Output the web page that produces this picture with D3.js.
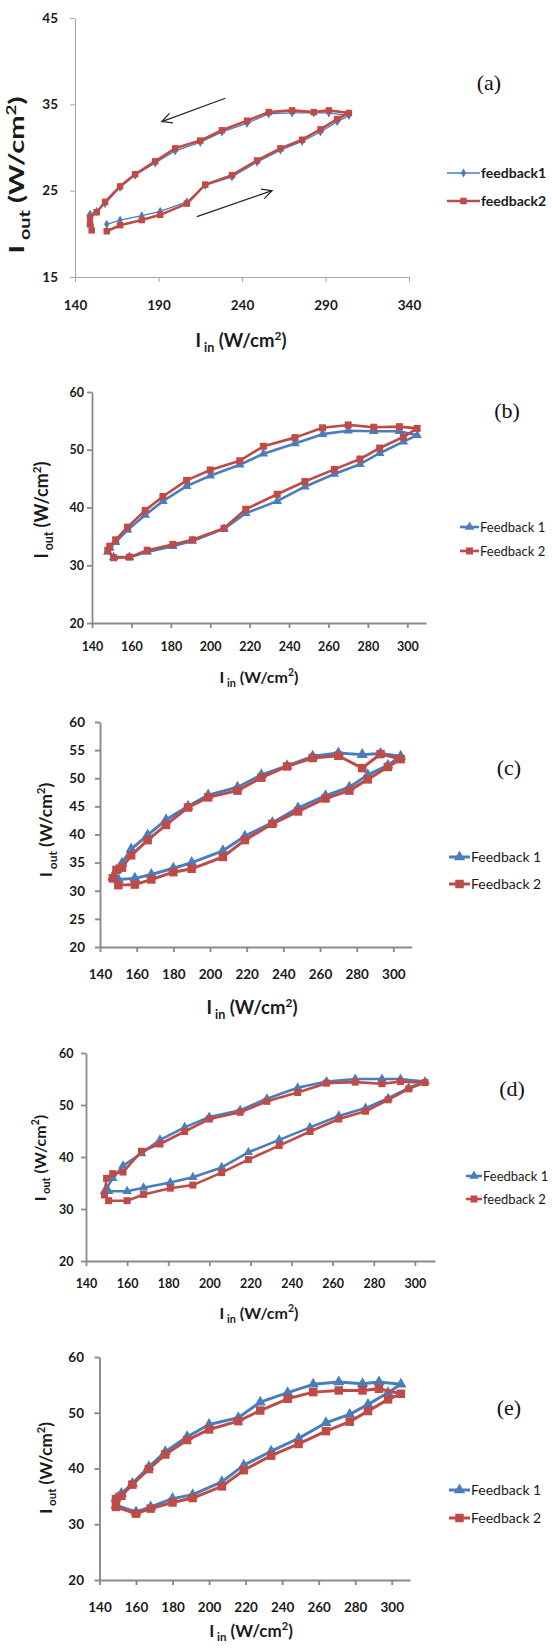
<!DOCTYPE html>
<html>
<head>
<meta charset="utf-8">
<script src="https://cdn.jsdelivr.net/npm/d3@7"></script>
<style>
  body { margin: 0; background: #fff; }
  svg { display: block; }
</style>
</head>
<body>
<svg id="chart"></svg>
<script>
// ---- data (I_in, W/cm2 -> I_out, W/cm2) ----
// each panel: rising branch first, then falling branch
const iinA = [159, 167, 180, 191, 207, 218, 234, 249, 263, 276, 287, 297, 304,
              292, 283, 270, 256, 243, 228, 215, 200, 188, 176, 167, 158, 153, 149, 149, 150];
const fb1A = [21.1, 21.6, 22.1, 22.6, 23.7, 25.6, 26.6, 28.3, 29.7, 30.7, 31.8, 33.0, 33.7,
              34.0, 34.0, 34.0, 33.9, 32.8, 31.8, 30.6, 29.6, 28.2, 26.8, 25.4, 23.5, 22.6, 22.3, 21.6, 21.0];
const fb2A = [20.3, 21.0, 21.6, 22.2, 23.5, 25.7, 26.8, 28.5, 29.9, 30.9, 32.1, 33.3, 34.0,
              34.3, 34.1, 34.3, 34.1, 33.1, 32.0, 30.8, 29.9, 28.4, 26.9, 25.5, 23.7, 22.5, 21.9, 21.1, 20.4];

const iinB = [151, 159, 168, 181, 191, 207, 218, 234, 248, 263, 276, 286, 298, 305,
              296, 283, 270, 257, 243, 227, 215, 200, 188, 176, 167, 158, 152, 149, 148];
const fb1B = [31.4, 31.4, 32.3, 33.3, 34.2, 36.3, 39.0, 41.1, 43.6, 45.8, 47.5, 49.4, 51.4, 52.5,
              53.2, 53.2, 53.3, 52.7, 51.1, 49.3, 47.4, 45.5, 43.7, 41.1, 38.7, 36.1, 34.0, 33.0, 32.3];
const fb2B = [31.3, 31.4, 32.6, 33.6, 34.4, 36.4, 39.7, 42.3, 44.5, 46.6, 48.4, 50.3, 52.2, 53.7,
              54.0, 53.9, 54.3, 53.8, 52.1, 50.6, 48.1, 46.5, 44.7, 41.9, 39.5, 36.6, 34.4, 33.3, 32.6];

const iinC = [150, 159, 168, 180, 190, 207, 219, 234, 248, 263, 276, 286, 297, 304,
              293, 283, 270, 256, 242, 228, 215, 199, 188, 176, 166, 157, 152, 149, 147];
const fb1C = [32.0, 32.2, 32.9, 34.0, 35.0, 37.1, 39.7, 42.1, 44.7, 46.9, 48.4, 50.6, 52.3, 53.9,
              54.4, 54.2, 54.5, 53.9, 52.2, 50.6, 48.4, 47.0, 45.0, 42.6, 39.9, 37.4, 34.9, 33.7, 32.4];
const fb2C = [31.0, 31.1, 32.0, 33.3, 33.9, 36.0, 39.0, 41.9, 44.1, 46.4, 47.8, 49.8, 52.0, 53.4,
              54.3, 51.8, 54.0, 53.6, 52.1, 50.1, 47.8, 46.6, 44.8, 41.7, 39.0, 36.3, 34.1, 33.7, 32.2];

const iinD = [151, 160, 168, 181, 192, 206, 219, 234, 249, 263, 276, 287, 297, 305,
              293, 284, 271, 257, 243, 228, 215, 200, 188, 176, 167, 158, 153, 150, 149];
const fb1D = [33.4, 33.4, 34.1, 35.1, 36.1, 38.0, 40.9, 43.3, 45.7, 47.9, 49.4, 51.3, 53.3, 54.5,
              55.0, 55.0, 55.0, 54.5, 53.3, 51.2, 49.0, 47.7, 45.7, 43.3, 40.7, 38.3, 35.9, 34.0, 33.4];
const fb2D = [31.6, 31.6, 32.8, 34.0, 34.6, 37.0, 39.5, 42.2, 44.9, 47.3, 48.8, 51.0, 53.1, 54.3,
              54.5, 54.1, 54.4, 54.2, 52.4, 50.7, 48.6, 47.3, 44.9, 42.5, 41.1, 37.1, 36.8, 35.9, 32.7];

const iinE = [149, 160, 168, 180, 191, 207, 219, 234, 249, 264, 277, 287, 298, 305,
              293, 284, 271, 257, 243, 228, 216, 200, 188, 176, 167, 158, 152, 149];
const fb1E = [33.4, 32.2, 33.1, 34.6, 35.3, 37.6, 40.6, 43.1, 45.4, 48.2, 49.7, 51.5, 53.6, 55.1,
              55.5, 55.2, 55.5, 55.1, 53.6, 51.9, 49.1, 47.9, 45.7, 43.0, 40.3, 37.3, 35.5, 34.6];
const fb2E = [33.1, 31.9, 32.8, 33.9, 34.7, 36.8, 39.7, 42.3, 44.4, 46.7, 48.4, 50.3, 52.4, 53.4,
              54.3, 54.0, 54.0, 53.7, 52.5, 50.4, 48.5, 47.0, 45.1, 42.5, 39.9, 37.1, 35.1, 34.5];

// tick labels
const xTicksA = [140, 190, 240, 290, 340];
const yTicksA = [15, 25, 35, 45];
const xTicks20 = [140, 160, 180, 200, 220, 240, 260, 280, 300];
const yTicks10 = [20, 30, 40, 50, 60];
const yTicks5 = [20, 25, 30, 35, 40, 45, 50, 55, 60];

// legend names
const namesA = ["feedback1", "feedback2"];
const namesBCE = ["Feedback 1", "Feedback 2"];
const namesD = ["Feedback 1", "feedback 2"];

// direction arrows in panel (a): [x1, y1, x2, y2] in data units, head at the second end
const arrowsA = [[230, 35.7, 192, 33.0], [213, 22.0, 258, 25.0]];

const blue = "#4a7ebb", red = "#be4b48";

// layout of each panel on the page (yTitle: cx, cy, font size, stretched length or 0)
const panels = [
  { tag: "(a)", iin: iinA, s1: fb1A, s2: fb2A, names: namesA, closed: false,
    xDomain: [140, 340], yDomain: [15, 45], xTicks: xTicksA, yTicks: yTicksA,
    left: 75, right: 409, top: 18, bottom: 277, axisColor: "#a6a6a6", axisWidth: 1,
    tickFont: 13.5, xLabY: 305, yLabGap: 17, xTitle: [241, 341, 18.5], yTitle: [17, 175, 21, 157],
    tagPos: [489, 82], legX: 447, legW: 33, legY: [173, 201], legFont: 14, legBold: true,
    w1: 1.3, w2: 2.6, m1: d3.symbolDiamond, m1Size: 24, mSize: 42, arrows: arrowsA },
  { tag: "(b)", iin: iinB, s1: fb1B, s2: fb2B, names: namesBCE, closed: true,
    xDomain: [140, 309.5], yDomain: [20, 60], xTicks: xTicks20, yTicks: yTicks10,
    left: 92, right: 426, top: 392, bottom: 623, axisColor: "#8a8a8a", axisWidth: 1.8,
    tickFont: 12.5, xLabY: 647, yLabGap: 8, xTitle: [259, 677, 16], yTitle: [42, 510, 18, 0],
    tagPos: [507, 410], legX: 460, legW: 19, legY: [527, 551], legFont: 13, legBold: false,
    w1: 2.6, w2: 2.6, m1: d3.symbolTriangle, m1Size: 40, mSize: 49 },
  { tag: "(c)", iin: iinC, s1: fb1C, s2: fb2C, names: namesBCE, closed: true,
    xDomain: [140, 310], yDomain: [20, 60], xTicks: xTicks20, yTicks: yTicks5,
    left: 100, right: 411.7, top: 722, bottom: 947, axisColor: "#8a8a8a", axisWidth: 1.9,
    tickFont: 13.5, xLabY: 974, yLabGap: 15, xTitle: [252, 1008, 18.5], yTitle: [46, 830, 17.5, 0],
    tagPos: [509, 767], legX: 449, legW: 21, legY: [857, 884], legFont: 14, legBold: false,
    w1: 3, w2: 3, m1: d3.symbolTriangle, m1Size: 55, mSize: 72 },
  { tag: "(d)", iin: iinD, s1: fb1D, s2: fb2D, names: namesD, closed: true,
    xDomain: [140, 309.8], yDomain: [20, 60], xTicks: xTicks20, yTicks: yTicks10,
    left: 86, right: 435, top: 1053, bottom: 1261, axisColor: "#8a8a8a", axisWidth: 1.8,
    tickFont: 12.5, xLabY: 1284, yLabGap: 12.5, xTitle: [259, 1313, 16], yTitle: [40.5, 1158, 16, 0],
    tagPos: [512, 1088], legX: 466, legW: 16, legY: [1176, 1199], legFont: 13, legBold: false,
    w1: 2.6, w2: 2.6, m1: d3.symbolTriangle, m1Size: 40, mSize: 49 },
  { tag: "(e)", iin: iinE, s1: fb1E, s2: fb2E, names: namesBCE, closed: true,
    xDomain: [140, 310], yDomain: [20, 60], xTicks: xTicks20, yTicks: yTicks10,
    left: 99.5, right: 410, top: 1357, bottom: 1580, axisColor: "#8a8a8a", axisWidth: 1.9,
    tickFont: 13.5, xLabY: 1607, yLabGap: 15.5, xTitle: [251, 1631, 17], yTitle: [46, 1468, 17, 0],
    tagPos: [509, 1407], legX: 449, legW: 21, legY: [1490, 1518], legFont: 14, legBold: false,
    w1: 3, w2: 3, m1: d3.symbolTriangle, m1Size: 55, mSize: 72 }
];

const font = "Lato, 'Open Sans', 'DejaVu Sans', sans-serif";

const svg = d3.select("#chart")
    .attr("width", 552)
    .attr("height", 1648)
    .attr("viewBox", [0, 0, 552, 1648])
    .style("font-family", font);

svg.append("defs").append("marker")
    .attr("id", "head")
    .attr("markerUnits", "userSpaceOnUse")
    .attr("viewBox", "-12 -6 14 12")
    .attr("markerWidth", 14)
    .attr("markerHeight", 12)
    .attr("orient", "auto")
  .append("path")
    .attr("d", "M-10,-5L0,0L-10,5")
    .attr("fill", "none")
    .attr("stroke", "#222")
    .attr("stroke-width", 1.2);

// I_in / I_out with sub and superscript
function ioTitle(text, sub, size) {
  text.append("tspan").text("I");
  text.append("tspan").attr("font-size", size * 0.68).attr("dy", size * 0.25).text(" " + sub);
  text.append("tspan").attr("dy", -size * 0.25).text(" (W/cm");
  text.append("tspan").attr("font-size", size * 0.65).attr("dy", -size * 0.42).text("2");
  text.append("tspan").attr("dy", size * 0.42).text(")");
}

panels.forEach(p => {
  const x = d3.scaleLinear(p.xDomain, [p.left, p.right]);
  const y = d3.scaleLinear(p.yDomain, [p.bottom, p.top]);
  const g = svg.append("g");

  const xAxis = g.append("g")
      .attr("transform", `translate(0,${p.bottom})`)
      .call(d3.axisBottom(x).tickValues(p.xTicks).tickSize(5).tickSizeOuter(0).tickFormat(d3.format("d")));
  xAxis.selectAll(".tick text")
      .attr("y", p.xLabY - p.bottom)
      .attr("dy", "0.35em");

  const yAxis = g.append("g")
      .attr("transform", `translate(${p.left},0)`)
      .call(d3.axisLeft(y).tickValues(p.yTicks).tickSize(5).tickSizeOuter(0).tickFormat(d3.format("d")));
  yAxis.selectAll(".tick text")
      .attr("x", -p.yLabGap);

  g.selectAll(".domain, .tick line")
      .attr("stroke", p.axisColor)
      .attr("stroke-width", p.axisWidth);
  g.selectAll(".tick text")
      .attr("fill", "#1a1a1a")
      .attr("font-family", font)
      .attr("font-weight", "bold")
      .attr("font-size", p.tickFont);

  // axis titles
  const xt = g.append("text")
      .attr("x", p.xTitle[0])
      .attr("y", p.xTitle[1])
      .attr("dy", "0.35em")
      .attr("text-anchor", "middle")
      .attr("font-weight", "bold")
      .attr("font-size", p.xTitle[2])
      .attr("fill", "#1a1a1a");
  ioTitle(xt, "in", p.xTitle[2]);

  const yt = g.append("text")
      .attr("transform", `translate(${p.yTitle[0]},${p.yTitle[1]}) rotate(-90)`)
      .attr("dy", "0.35em")
      .attr("text-anchor", "middle")
      .attr("font-weight", "bold")
      .attr("font-size", p.yTitle[2])
      .attr("fill", "#1a1a1a");
  if (p.yTitle[3]) yt.attr("textLength", p.yTitle[3]).attr("lengthAdjust", "spacingAndGlyphs");
  ioTitle(yt, "out", p.yTitle[2]);

  // panel tag
  g.append("text")
      .attr("x", p.tagPos[0])
      .attr("y", p.tagPos[1])
      .attr("dy", "0.35em")
      .attr("text-anchor", "middle")
      .attr("font-family", "'Liberation Serif', 'DejaVu Serif', serif")
      .attr("font-size", 22)
      .attr("fill", "#111")
      .text(p.tag);

  // series
  const series = [
    { ys: p.s1, color: blue, width: p.w1, symbol: p.m1, size: p.m1Size, name: p.names[0] },
    { ys: p.s2, color: red, width: p.w2, symbol: d3.symbolSquare, size: p.mSize, name: p.names[1] }
  ];
  const idx = d3.range(p.iin.length);

  series.forEach((s, k) => {
    const line = d3.line()
        .curve(p.closed ? d3.curveLinearClosed : d3.curveLinear)
        .x(i => x(p.iin[i]))
        .y(i => y(s.ys[i]));
    g.append("path")
        .attr("fill", "none")
        .attr("stroke", s.color)
        .attr("stroke-width", s.width)
        .attr("stroke-linejoin", "round")
        .attr("d", line(idx));
    g.append("g")
        .attr("fill", s.color)
      .selectAll("path")
      .data(idx)
      .join("path")
        .attr("transform", i => `translate(${x(p.iin[i])},${y(s.ys[i])})`)
        .attr("d", d3.symbol(s.symbol, s.size));

    // legend entry
    const ly = p.legY[k];
    const lg = g.append("g");
    lg.append("line")
        .attr("x1", p.legX).attr("x2", p.legX + p.legW)
        .attr("y1", ly).attr("y2", ly)
        .attr("stroke", s.color)
        .attr("stroke-width", s.width);
    lg.append("path")
        .attr("transform", `translate(${p.legX + p.legW / 2},${ly})`)
        .attr("fill", s.color)
        .attr("d", d3.symbol(s.symbol, s.size));
    lg.append("text")
        .attr("x", p.legX + p.legW + 1)
        .attr("y", ly)
        .attr("dy", "0.35em")
        .attr("font-size", p.legFont)
        .attr("font-weight", p.legBold ? "bold" : "normal")
        .attr("fill", "#1a1a1a")
        .text(s.name);
  });

  // direction arrows (panel a only)
  if (p.arrows) g.selectAll(".arrow")
      .data(p.arrows)
      .join("line")
        .attr("class", "arrow")
        .attr("x1", d => x(d[0])).attr("y1", d => y(d[1]))
        .attr("x2", d => x(d[2])).attr("y2", d => y(d[3]))
        .attr("stroke", "#222")
        .attr("stroke-width", 1.2)
        .attr("marker-end", "url(#head)");
});
</script>
</body>
</html>
